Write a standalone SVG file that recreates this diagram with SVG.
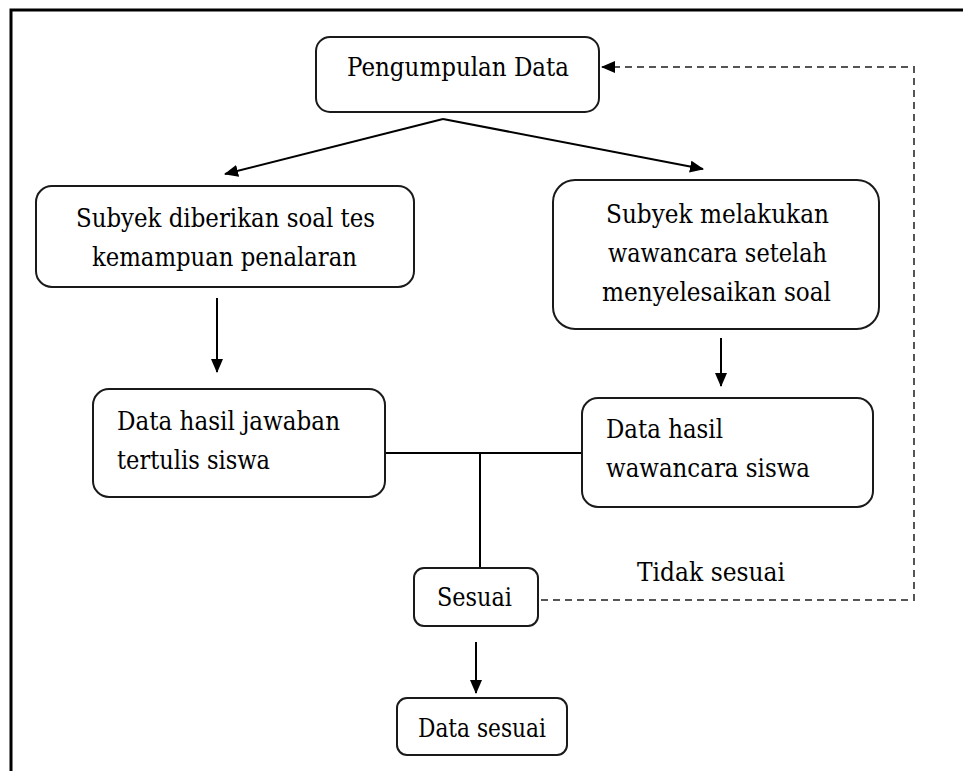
<svg xmlns="http://www.w3.org/2000/svg" width="963" height="771" viewBox="0 0 963 771">
<defs>
<style>
.box{fill:#fff;stroke:#1a1a1a;stroke-width:2}
.t{font-family:'DejaVu Serif','Liberation Serif',serif;font-size:26px;fill:#000}
.m{text-anchor:middle}
.c{fill:none;stroke:#000;stroke-width:2}
.d{fill:none;stroke:#555;stroke-width:2;stroke-dasharray:7 5}
</style>
<marker id="ah" markerUnits="userSpaceOnUse" markerWidth="14" markerHeight="12" refX="13" refY="6" orient="auto">
<path d="M0,0 L14,6 L0,12 z" fill="#000"/>
</marker>
</defs>
<rect width="963" height="771" fill="#fff"/>
<path d="M11,771 V10 H963" fill="none" stroke="#000" stroke-width="3"/>
<g id="connectors">
<path class="c" d="M443,119 L225,174" marker-end="url(#ah)"/>
<path class="c" d="M443,119 L703,169" marker-end="url(#ah)"/>
<path class="c" d="M217,298 V372" marker-end="url(#ah)"/>
<path class="c" d="M721,338 V386" marker-end="url(#ah)"/>
<path class="c" d="M385,453 H582 M480,453 V568"/>
<path class="c" d="M476,642 V693" marker-end="url(#ah)"/>
<path class="d" d="M541,600 H914 V67 H602" marker-end="url(#ah)"/>
</g>
<g id="pengumpulan">
<rect class="box" x="316" y="37" width="283" height="75" rx="14"/>
<text class="t" x="347" y="76" textLength="222" lengthAdjust="spacingAndGlyphs">Pengumpulan Data</text>
</g>
<g id="subyek-soal">
<rect class="box" x="36" y="186" width="378" height="101" rx="16"/>
<text class="t" x="76" y="227" textLength="299" lengthAdjust="spacingAndGlyphs">Subyek diberikan soal tes</text>
<text class="t" x="92" y="266" textLength="265" lengthAdjust="spacingAndGlyphs">kemampuan penalaran</text>
</g>
<g id="subyek-wawancara">
<rect class="box" x="553" y="180" width="326" height="149" rx="22"/>
<text class="t" x="606" y="223" textLength="223" lengthAdjust="spacingAndGlyphs">Subyek melakukan</text>
<text class="t" x="608" y="262" textLength="219" lengthAdjust="spacingAndGlyphs">wawancara setelah</text>
<text class="t" x="602" y="301" textLength="229" lengthAdjust="spacingAndGlyphs">menyelesaikan soal</text>
</g>
<g id="data-jawaban">
<rect class="box" x="93" y="389" width="292" height="108" rx="16"/>
<text class="t" x="117" y="430" textLength="223" lengthAdjust="spacingAndGlyphs">Data hasil jawaban</text>
<text class="t" x="117" y="469" textLength="153" lengthAdjust="spacingAndGlyphs">tertulis siswa</text>
</g>
<g id="data-wawancara">
<rect class="box" x="582" y="398" width="291" height="109" rx="16"/>
<text class="t" x="606" y="438" textLength="117" lengthAdjust="spacingAndGlyphs">Data hasil</text>
<text class="t" x="606" y="477" textLength="204" lengthAdjust="spacingAndGlyphs">wawancara siswa</text>
</g>
<g id="sesuai">
<rect class="box" x="414" y="568" width="124" height="58" rx="10"/>
<text class="t" x="437" y="606" textLength="75" lengthAdjust="spacingAndGlyphs">Sesuai</text>
</g>
<g id="tidak-sesuai-label">
<text class="t" x="637" y="581" textLength="148" lengthAdjust="spacingAndGlyphs">Tidak sesuai</text>
</g>
<g id="data-sesuai">
<rect class="box" x="397" y="698" width="170" height="57" rx="10"/>
<text class="t" x="418" y="737" textLength="128" lengthAdjust="spacingAndGlyphs">Data sesuai</text>
</g>
</svg>
